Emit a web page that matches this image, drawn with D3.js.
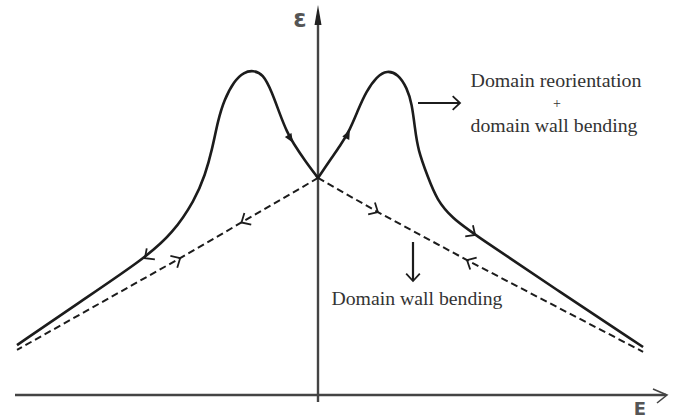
<!DOCTYPE html>
<html>
<head>
<meta charset="utf-8">
<script src="https://cdn.jsdelivr.net/npm/d3@7"></script>
<style>
  body { margin: 0; background: #fff; }
  svg { display: block; }
</style>
</head>
<body>
<script>
// field E (left end = -1) and strain eps (peak = 1)
var solidE   = [-1.000, -0.791, -0.575, -0.482, -0.409, -0.375, -0.352, -0.332, -0.312, -0.279, -0.246, -0.216,
                -0.183, -0.153, -0.126, -0.103, -0.083, -0.043, 0.000, 0.040, 0.073, 0.106, 0.133, 0.159,
                0.196, 0.229, 0.266, 0.296, 0.312, 0.322, 0.332, 0.365, 0.395, 0.445, 0.522, 0.804, 1.080];
var solidEps = [0.155, 0.289, 0.425, 0.503, 0.606, 0.683, 0.761, 0.854, 0.916, 0.975, 1.003, 1.008,
                0.998, 0.941, 0.870, 0.817, 0.783, 0.727, 0.674, 0.730, 0.773, 0.823, 0.885, 0.941,
                0.990, 1.008, 0.997, 0.953, 0.904, 0.829, 0.761, 0.677, 0.606, 0.550, 0.497, 0.320, 0.149];

var dashLeftE    = [0.000, -0.458, -1.000];
var dashLeftEps  = [0.674, 0.425, 0.140];
var dashRightE   = [0.000, 0.199, 0.495, 1.080];
var dashRightEps = [0.674, 0.568, 0.419, 0.134];

// arrows: index into the point list, direction along it, filled or open
var solidArrows = [{i: 2, dir: -1, fill: false}, {i: 16, dir: 1, fill: true},
                   {i: 21, dir: 1, fill: true}, {i: 34, dir: 1, fill: false}];
var leftArrows  = [{i: 1, dir: 1, at: 0.555}, {i: 1, dir: -1, at: 1}];
var rightArrows = [{i: 1, dir: 1, at: 1}, {i: 2, dir: -1, at: 1}];

var width = 675, height = 420;

var x = d3.scaleLinear().domain([-1, 1]).range([17, 619]);
var y = d3.scaleLinear().domain([0, 1]).range([395, 73]);

var svg = d3.select("body").append("svg")
    .attr("width", width)
    .attr("height", height);

svg.append("rect").attr("width", width).attr("height", height).attr("fill", "#fff");

var ink = "#1c1c1c";

// axes
svg.append("line")
    .attr("x1", 15).attr("x2", 666)
    .attr("y1", y(0)).attr("y2", y(0))
    .attr("stroke", "#444").attr("stroke-width", 2.4);
svg.append("path")
    .attr("d", "M" + 653 + "," + (y(0) - 6) + "L" + 667 + "," + y(0) + "L" + 657 + "," + (y(0) + 8))
    .attr("fill", "none").attr("stroke", "#444").attr("stroke-width", 1.6);

svg.append("line")
    .attr("x1", x(0)).attr("x2", x(0))
    .attr("y1", 402).attr("y2", 20)
    .attr("stroke", "#444").attr("stroke-width", 2.4);
svg.append("path")
    .attr("d", "M" + x(0) + ",5L" + (x(0) - 3.5) + ",25L" + (x(0) + 3.5) + ",25Z")
    .attr("fill", "#222");

svg.append("text")
    .attr("x", 300).attr("y", 27)
    .attr("text-anchor", "middle")
    .attr("font-family", "DejaVu Sans, sans-serif")
    .attr("font-size", 24).attr("font-weight", "bold")
    .attr("fill", "#555")
    .text("ε");
svg.append("text")
    .attr("x", 640).attr("y", 415)
    .attr("text-anchor", "middle")
    .attr("font-family", "DejaVu Sans, sans-serif")
    .attr("font-size", 18).attr("font-weight", "bold")
    .attr("fill", "#555")
    .text("E");

function pts(es, vs) {
    return es.map(function(e, i) { return [x(e), y(vs[i])]; });
}

var solid = pts(solidE, solidEps);
var dl = pts(dashLeftE, dashLeftEps);
var dr = pts(dashRightE, dashRightEps);
var mid = solidE.indexOf(0);

// two smooth branches meeting in a cusp at the origin point
[solid.slice(0, mid + 1), solid.slice(mid)].forEach(function(p) {
    svg.append("path")
        .attr("d", d3.line().curve(d3.curveBasis)(p))
        .attr("fill", "none").attr("stroke", ink).attr("stroke-width", 2.6);
});

[dl, dr].forEach(function(p) {
    svg.append("path")
        .attr("d", d3.line()(p))
        .attr("fill", "none").attr("stroke", ink)
        .attr("stroke-width", 2).attr("stroke-dasharray", "7,4");
});

function arrowHead(px, py, ang, filled) {
    var L = 10, a = filled ? 0.4 : 0.75;
    var p1 = [px - L * Math.cos(ang - a), py - L * Math.sin(ang - a)];
    var p2 = [px - L * Math.cos(ang + a), py - L * Math.sin(ang + a)];
    if (filled) {
        svg.append("path")
            .attr("d", "M" + p1 + "L" + px + "," + py + "L" + p2 + "Z")
            .attr("fill", ink);
    } else {
        svg.append("path")
            .attr("d", "M" + p1 + "L" + px + "," + py + "L" + p2)
            .attr("fill", "none").attr("stroke", ink).attr("stroke-width", 1.8);
    }
}

solidArrows.forEach(function(a) {
    var p = solid[a.i], q = solid[a.i + a.dir], r = solid[a.i - a.dir];
    var ang = Math.atan2(q[1] - r[1], q[0] - r[0]);
    arrowHead(p[0], p[1], ang, a.fill);
});

function dashArrows(p, list) {
    list.forEach(function(a) {
        var s = p[a.i - 1], e = p[a.i];
        var px = s[0] + (e[0] - s[0]) * a.at, py = s[1] + (e[1] - s[1]) * a.at;
        var ang = Math.atan2(e[1] - s[1], e[0] - s[0]);
        if (a.dir < 0) ang += Math.PI;
        arrowHead(px, py, ang, false);
    });
}
dashArrows(dl, leftArrows);
dashArrows(dr, rightArrows);

// annotations
var serif = "Liberation Serif, Times New Roman, serif";
svg.append("line").attr("x1", 418).attr("x2", 459).attr("y1", 103).attr("y2", 103)
    .attr("stroke", ink).attr("stroke-width", 2.2);
arrowHead(460, 103, 0, false);

svg.append("line").attr("x1", 413).attr("x2", 413).attr("y1", 242).attr("y2", 280)
    .attr("stroke", ink).attr("stroke-width", 2.2);
arrowHead(413, 281, Math.PI / 2, false);

function label(t, cx, by, w, size) {
    var el = svg.append("text")
        .attr("x", cx).attr("y", by)
        .attr("text-anchor", "middle")
        .attr("font-family", serif)
        .attr("font-size", size)
        .attr("fill", "#333")
        .text(t);
    if (w) el.attr("textLength", w).attr("lengthAdjust", "spacingAndGlyphs");
}
label("Domain reorientation", 556, 87, 171, 18);
label("+", 557, 108, null, 14);
label("domain wall bending", 554, 132, 167, 18);
label("Domain wall bending", 417, 305, 171, 18);
</script>
</body>
</html>
